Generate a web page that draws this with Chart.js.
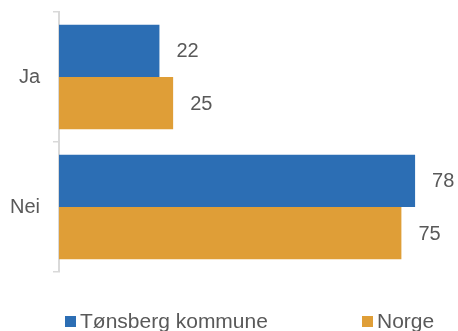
<!DOCTYPE html>
<html>
<head>
<meta charset="utf-8">
<script src="https://cdn.jsdelivr.net/npm/chart.js@4"></script>
<style>
  html, body { margin: 0; padding: 0; background: #fff; }
  #wrap { width: 458px; height: 331px; position: relative; }
</style>
</head>
<body>
<div id="wrap"><canvas id="chart"></canvas></div>
<script>
// Data
const categories = ['Ja', 'Nei'];
const seriesNames = ['Tønsberg kommune', 'Norge'];
const tonsbergValues = [22, 78];
const norgeValues = [25, 75];

const colors = ['#2C6EB4', '#DF9E37'];
const textColor = '#595959';
const fontFamily = '"Liberation Sans", Arial, sans-serif';

// value labels to the right of each bar
const valueLabels = {
  id: 'valueLabels',
  afterDatasetsDraw(chart) {
    const ctx = chart.ctx;
    ctx.save();
    ctx.font = '20px ' + fontFamily;
    ctx.fillStyle = textColor;
    ctx.textAlign = 'left';
    ctx.textBaseline = 'middle';
    chart.data.datasets.forEach((ds, i) => {
      chart.getDatasetMeta(i).data.forEach((bar, j) => {
        ctx.fillText(String(ds.data[j]), bar.x + 17, bar.y + 1);
      });
    });
    ctx.restore();
  }
};

// legend along the bottom edge
const legendX = [65, 362];
const bottomLegend = {
  id: 'bottomLegend',
  afterDraw(chart) {
    const ctx = chart.ctx;
    ctx.save();
    ctx.font = '21px ' + fontFamily;
    ctx.textBaseline = 'alphabetic';
    chart.data.datasets.forEach((ds, i) => {
      const x = legendX[i];
      ctx.fillStyle = ds.backgroundColor;
      ctx.fillRect(x, 316, 11, 11);
      ctx.fillStyle = textColor;
      ctx.fillText(ds.label, x + 15, 328);
    });
    ctx.restore();
  }
};

new Chart(document.getElementById('chart'), {
  type: 'bar',
  data: {
    labels: categories,
    datasets: [
      { label: seriesNames[0], data: tonsbergValues, backgroundColor: colors[0] },
      { label: seriesNames[1], data: norgeValues, backgroundColor: colors[1] }
    ]
  },
  options: {
    indexAxis: 'y',
    responsive: true,
    maintainAspectRatio: false,
    devicePixelRatio: 1,
    animation: false,
    categoryPercentage: 0.805,
    barPercentage: 1,
    layout: { padding: { top: 12, bottom: 59, left: 0, right: 0 } },
    plugins: {
      legend: { display: false },
      tooltip: { enabled: false }
    },
    scales: {
      x: {
        display: false,
        min: 0,
        max: 87.4
      },
      y: {
        afterFit(scale) {
          scale.width = 59;
          scale.paddingTop = 0;
          scale.paddingBottom = 0;
        },
        grid: {
          offset: true,
          drawOnChartArea: false,
          drawTicks: true,
          tickLength: 6,
          color: '#D9D9D9',
          lineWidth: 1.5
        },
        border: { display: true, color: '#D9D9D9', width: 2 },
        ticks: {
          color: textColor,
          padding: 13,
          font: { family: fontFamily, size: 20 }
        }
      }
    }
  },
  plugins: [valueLabels, bottomLegend]
});
</script>
</body>
</html>
